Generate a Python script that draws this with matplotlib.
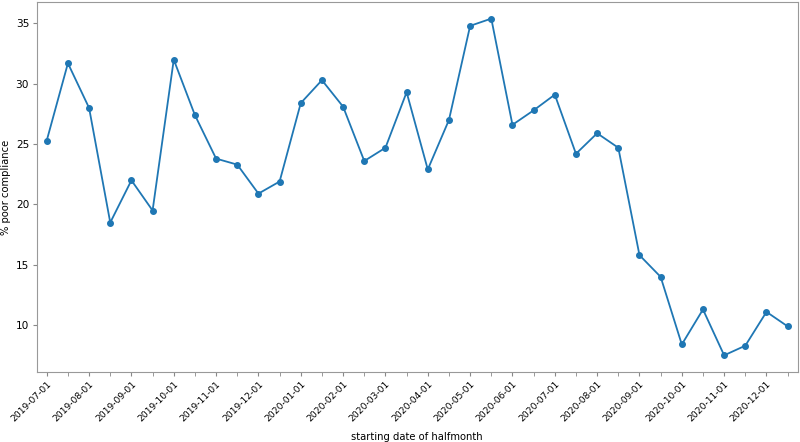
import matplotlib
matplotlib.use('Agg')
import matplotlib.pyplot as plt

# half-month start dates
dates = ['2019-07-01', '2019-07-16', '2019-08-01', '2019-08-16', '2019-09-01', '2019-09-16',
         '2019-10-01', '2019-10-16', '2019-11-01', '2019-11-16', '2019-12-01', '2019-12-16',
         '2020-01-01', '2020-01-16', '2020-02-01', '2020-02-16', '2020-03-01', '2020-03-16',
         '2020-04-01', '2020-04-16', '2020-05-01', '2020-05-16', '2020-06-01', '2020-06-16',
         '2020-07-01', '2020-07-16', '2020-08-01', '2020-08-16', '2020-09-01', '2020-09-16',
         '2020-10-01', '2020-10-16', '2020-11-01', '2020-11-16', '2020-12-01', '2020-12-16']

# % poor compliance per half-month
poor_pct = [25.3, 31.7, 28.0, 18.5, 22.0, 19.5,
            32.0, 27.4, 23.8, 23.3, 20.9, 21.9,
            28.4, 30.3, 28.1, 23.6, 24.7, 29.3,
            22.9, 27.0, 34.8, 35.4, 26.6, 27.8,
            29.1, 24.2, 25.9, 24.7, 15.8, 14.0,
            8.4, 11.3, 7.5, 8.3, 11.1, 9.9]

x = list(range(len(dates)))

fig = plt.figure(figsize=(8, 4.42), dpi=100)
ax = fig.add_axes([0.046, 0.158, 0.951, 0.838])
ax.plot(x, poor_pct, color='#1f77b4', lw=1.3, marker='o', ms=4)

ax.set_xlim(-0.47, len(x) - 0.53)
ax.set_xticks(x[::2])
ax.set_xticklabels(dates[::2], rotation=45, ha='right', rotation_mode='anchor', fontsize=6.6)
ax.set_xticks(x[1::2], minor=True)
ax.tick_params(axis='y', labelsize=7.6)
ax.tick_params(which='both', color='#888888', length=3, pad=2.5)

for s in ax.spines.values():
    s.set_color('#999999')

ax.set_xlabel('starting date of halfmonth', fontsize=7.2, labelpad=6)
ax.set_ylabel('% poor compliance', fontsize=7.2, labelpad=3)

plt.savefig('out.png', dpi=100)
